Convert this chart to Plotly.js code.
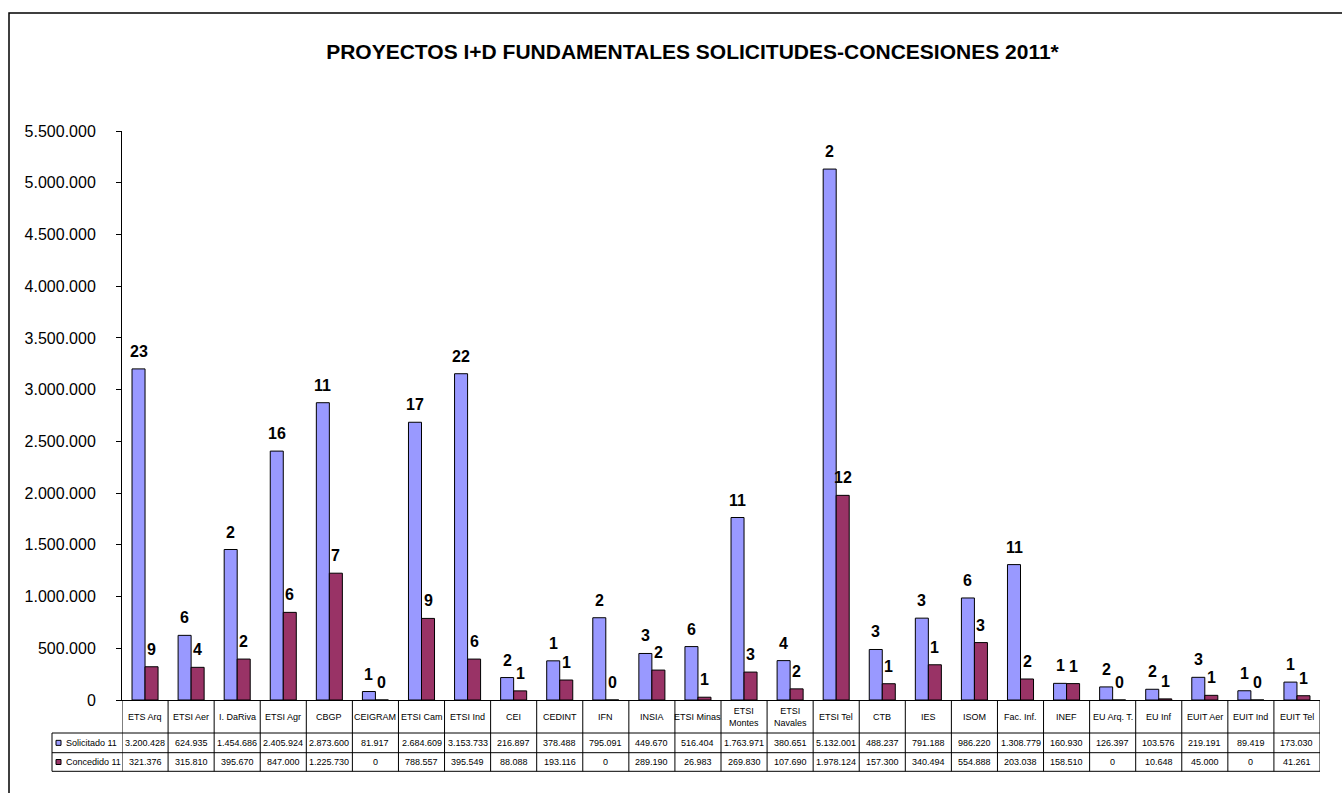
<!DOCTYPE html>
<html>
<head>
<meta charset="utf-8">
<script src="https://cdn.plot.ly/plotly-3.0.1.min.js"></script>
<style>
  html, body { margin: 0; padding: 0; background: #fff; }
  #chart { width: 1342px; height: 793px; }
</style>
</head>
<body>
<div id="chart"></div>
<script>
// centres / escuelas
var categories = ['ETS Arq', 'ETSI Aer', 'I. DaRiva', 'ETSI Agr', 'CBGP', 'CEIGRAM', 'ETSI Cam',
    'ETSI Ind', 'CEI', 'CEDINT', 'IFN', 'INSIA', 'ETSI Minas', 'ETSI Montes', 'ETSI Navales',
    'ETSI Tel', 'CTB', 'IES', 'ISOM', 'Fac. Inf.', 'INEF', 'EU Arq. T.', 'EU Inf', 'EUIT Aer',
    'EUIT Ind', 'EUIT Tel'];

// texto de la fila de categorias (dos lineas en Montes / Navales)
var tickLabels = ['ETS Arq', 'ETSI Aer', 'I. DaRiva', 'ETSI Agr', 'CBGP', 'CEIGRAM', 'ETSI Cam',
    'ETSI Ind', 'CEI', 'CEDINT', 'IFN', 'INSIA', 'ETSI Minas', 'ETSI<br>Montes', 'ETSI<br>Navales',
    'ETSI Tel', 'CTB', 'IES', 'ISOM', 'Fac. Inf.', 'INEF', 'EU Arq. T.', 'EU Inf', 'EUIT Aer',
    'EUIT Ind', 'EUIT Tel'];

// importes (euros)
var solicitado = [3200428, 624935, 1454686, 2405924, 2873600, 81917, 2684609, 3153733, 216897,
    378488, 795091, 449670, 516404, 1763971, 380651, 5132001, 488237, 791188, 986220, 1308779,
    160930, 126397, 103576, 219191, 89419, 173030];
var concedido = [321376, 315810, 395670, 847000, 1225730, 0, 788557, 395549, 88088, 193116, 0,
    289190, 26983, 269830, 107690, 1978124, 157300, 340494, 554888, 203038, 158510, 0, 10648,
    45000, 0, 41261];

// numero de proyectos (etiquetas sobre las barras)
var nSolicitado = [23, 6, 2, 16, 11, 1, 17, 22, 2, 1, 2, 3, 6, 11, 4, 2, 3, 3, 6, 11, 1, 2, 2, 3, 1, 1];
var nConcedido = [9, 4, 2, 6, 7, 0, 9, 6, 1, 1, 0, 2, 1, 3, 2, 12, 1, 1, 3, 2, 1, 0, 1, 1, 0, 1];

var seriesNames = ['Solicitado 11', 'Concedido 11'];
var seriesColors = ['#9999FF', '#993366'];

var FONT = 'Arial, "Liberation Sans", sans-serif';

// 3200428 -> "3.200.428"
function fmt(v) {
    return String(v).replace(/\B(?=(\d{3})+(?!\d))/g, '.');
}

var data = [
    {
        type: 'bar', name: seriesNames[0], x: categories, y: solicitado,
        marker: { color: seriesColors[0], line: { color: '#000', width: 1 } },
        hoverinfo: 'none'
    },
    {
        type: 'bar', name: seriesNames[1], x: categories, y: concedido,
        marker: { color: seriesColors[1], line: { color: '#000', width: 1 } },
        hoverinfo: 'none'
    }
];

// filas de la tabla en coordenadas paper (alto del area = 569px)
var H = 569, W = 1198;
var yHeadBot = -33 / H, yRow1Bot = -52.7 / H, yRow2Bot = -71.3 / H;
var xTableLeft = -70 / W;

var annotations = [];
var shapes = [];

categories.forEach(function (c, i) {
    // numero de proyectos
    annotations.push({ x: c, y: solicitado[i], xref: 'x', yref: 'y', text: String(nSolicitado[i]),
        xshift: -6.5, yshift: 7, yanchor: 'bottom', showarrow: false,
        font: { family: FONT, size: 16, color: '#000', weight: 'bold' } });
    annotations.push({ x: c, y: concedido[i], xref: 'x', yref: 'y', text: String(nConcedido[i]),
        xshift: 6.5, yshift: 7, yanchor: 'bottom', showarrow: false,
        font: { family: FONT, size: 16, color: '#000', weight: 'bold' } });
    // tabla de datos
    annotations.push({ x: c, y: yHeadBot / 2, xref: 'x', yref: 'paper', text: tickLabels[i],
        showarrow: false, yanchor: 'middle', font: { family: FONT, size: 9, color: '#000' } });
    annotations.push({ x: c, y: (yHeadBot + yRow1Bot) / 2, xref: 'x', yref: 'paper', text: fmt(solicitado[i]),
        showarrow: false, yanchor: 'middle', font: { family: FONT, size: 9, color: '#000' } });
    annotations.push({ x: c, y: (yRow1Bot + yRow2Bot) / 2, xref: 'x', yref: 'paper', text: fmt(concedido[i]),
        showarrow: false, yanchor: 'middle', font: { family: FONT, size: 9, color: '#000' } });
});

for (var k = 0; k <= categories.length; k++) {
    shapes.push({ type: 'line', xref: 'x', yref: 'paper', x0: k - 0.5, x1: k - 0.5, y0: yRow2Bot, y1: 0,
        line: { color: '#000', width: 1 } });
}
[yHeadBot, yRow1Bot, yRow2Bot].forEach(function (yy) {
    shapes.push({ type: 'line', xref: 'paper', yref: 'paper', x0: xTableLeft, x1: 1, y0: yy, y1: yy,
        line: { color: '#000', width: 1 } });
});
shapes.push({ type: 'line', xref: 'paper', yref: 'paper', x0: xTableLeft, x1: xTableLeft, y0: yRow2Bot, y1: yHeadBot,
    line: { color: '#000', width: 1 } });

// leyenda dentro de la tabla
[[yHeadBot, yRow1Bot], [yRow1Bot, yRow2Bot]].forEach(function (r, s) {
    var yc = (r[0] + r[1]) / 2;
    shapes.push({ type: 'rect', xref: 'paper', yref: 'paper',
        x0: -66 / W, x1: -61 / W, y0: yc - 2.5 / H, y1: yc + 2.5 / H,
        fillcolor: seriesColors[s], line: { color: '#000', width: 1 } });
    annotations.push({ x: -58 / W, y: yc, xref: 'paper', yref: 'paper', text: seriesNames[s],
        showarrow: false, xanchor: 'left', yanchor: 'middle',
        font: { family: FONT, size: 9, color: '#000' } });
});

// marco del grafico
shapes.push({ type: 'rect', xref: 'paper', yref: 'paper', x0: -113 / W, x1: 1.1, y0: -0.3, y1: 687 / H,
    line: { color: '#000', width: 1.5 } });

var layout = {
    width: 1342,
    height: 793,
    autosize: false,
    margin: { l: 122, r: 22, t: 131, b: 93 },
    paper_bgcolor: '#fff',
    plot_bgcolor: '#fff',
    separators: ',.',
    font: { family: FONT, color: '#000' },
    title: {
        text: 'PROYECTOS I+D FUNDAMENTALES SOLICITUDES-CONCESIONES 2011*',
        font: { family: FONT, size: 21, color: '#000', weight: 'bold' },
        x: 0.516, xanchor: 'center', y: 1 - 52 / 793, yanchor: 'middle'
    },
    showlegend: false,
    barmode: 'group',
    bargap: 0.435,
    bargroupgap: 0,
    xaxis: {
        type: 'category',
        range: [-0.5, categories.length - 0.5],
        showticklabels: false,
        showline: true, linecolor: '#000', linewidth: 1,
        ticks: '', showgrid: false, zeroline: false, fixedrange: true
    },
    yaxis: {
        range: [0, 5500000],
        dtick: 500000,
        tickformat: ',.0f',
        showline: true, linecolor: '#000', linewidth: 1,
        ticks: 'outside', ticklen: 5, tickcolor: '#000',
        ticklabelstandoff: 17,
        showgrid: false, zeroline: false, fixedrange: true,
        tickfont: { family: FONT, size: 16, color: '#000' }
    },
    annotations: annotations,
    shapes: shapes
};

Plotly.newPlot('chart', data, layout, { displayModeBar: false, staticPlot: true });
</script>
</body>
</html>
